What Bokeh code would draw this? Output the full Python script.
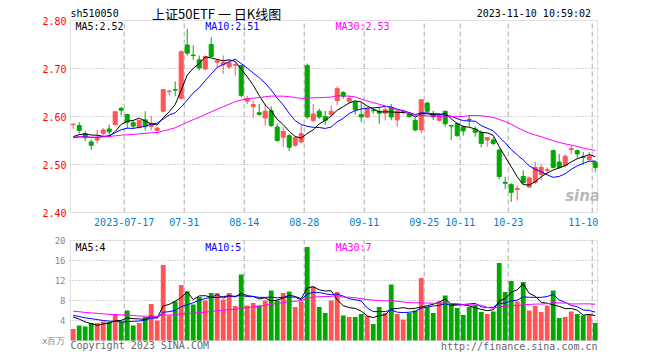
import numpy as np
from bokeh.plotting import figure
from bokeh.layouts import column
from bokeh.models import (ColumnDataSource, FixedTicker, Label, Range1d,
                          NumeralTickFormatter, BoxAnnotation)
from bokeh.embed import file_html
from bokeh.resources import INLINE

# ---------------- data ----------------
# trading-day index 0 = 2023-07-04 ... 87 = 2023-11-10
tick_days = [9, 19, 29, 39, 49, 59, 65, 73, 87]
tick_labels = ["2023-07-17", "07-31", "08-14", "08-28", "09-11",
               "09-25", "10-11", "10-23", "11-10"]

opens = [2.583, 2.581, 2.564, 2.547, 2.551, 2.565, 2.574, 2.583, 2.617, 2.604,
         2.587, 2.577, 2.593, 2.579, 2.571, 2.611, 2.652, 2.656, 2.638, 2.749,
         2.728, 2.718, 2.699, 2.750, 2.713, 2.708, 2.703, 2.707, 2.706, 2.632,
         2.621, 2.608, 2.597, 2.612, 2.578, 2.557, 2.560, 2.540, 2.547, 2.706,
         2.592, 2.611, 2.600, 2.604, 2.633, 2.650, 2.632, 2.630, 2.604, 2.599,
         2.613, 2.611, 2.607, 2.618, 2.593, 2.610, 2.605, 2.592, 2.572, 2.628,
         2.605, 2.592, 2.611, 2.581, 2.585, 2.578, 2.594, 2.574, 2.567, 2.551,
         2.551, 2.530, 2.463, 2.458, 2.448, 2.475, 2.453, 2.463, 2.479, 2.488,
         2.529, 2.505, 2.498, 2.531, 2.529, 2.516, 2.510, 2.505]
highs = [2.585, 2.588, 2.569, 2.552, 2.572, 2.576, 2.583, 2.611, 2.620, 2.606,
         2.592, 2.593, 2.611, 2.601, 2.579, 2.656, 2.656, 2.673, 2.738, 2.783,
         2.748, 2.727, 2.727, 2.765, 2.720, 2.727, 2.718, 2.713, 2.708, 2.643,
         2.633, 2.626, 2.626, 2.621, 2.585, 2.578, 2.564, 2.560, 2.581, 2.710,
         2.626, 2.616, 2.612, 2.623, 2.663, 2.653, 2.644, 2.633, 2.630, 2.619,
         2.618, 2.619, 2.622, 2.626, 2.614, 2.614, 2.609, 2.597, 2.636, 2.630,
         2.612, 2.607, 2.612, 2.582, 2.588, 2.581, 2.603, 2.579, 2.571, 2.557,
         2.557, 2.533, 2.474, 2.461, 2.456, 2.488, 2.475, 2.505, 2.500, 2.494,
         2.531, 2.522, 2.521, 2.540, 2.531, 2.526, 2.526, 2.508]
lows = [2.574, 2.564, 2.549, 2.531, 2.544, 2.560, 2.560, 2.581, 2.602, 2.576,
        2.574, 2.575, 2.571, 2.571, 2.563, 2.608, 2.644, 2.642, 2.635, 2.727,
        2.718, 2.696, 2.696, 2.724, 2.703, 2.689, 2.699, 2.685, 2.640, 2.626,
        2.597, 2.602, 2.581, 2.578, 2.547, 2.536, 2.528, 2.537, 2.544, 2.595,
        2.588, 2.595, 2.583, 2.599, 2.623, 2.637, 2.628, 2.604, 2.588, 2.597,
        2.606, 2.585, 2.592, 2.592, 2.579, 2.604, 2.597, 2.569, 2.565, 2.606,
        2.593, 2.590, 2.579, 2.551, 2.558, 2.560, 2.579, 2.558, 2.536, 2.537,
        2.540, 2.470, 2.449, 2.422, 2.425, 2.458, 2.451, 2.460, 2.467, 2.481,
        2.492, 2.491, 2.494, 2.522, 2.512, 2.500, 2.508, 2.484]
closes = [2.584, 2.571, 2.556, 2.540, 2.554, 2.572, 2.568, 2.610, 2.613, 2.588,
          2.580, 2.592, 2.579, 2.585, 2.576, 2.656, 2.653, 2.655, 2.735, 2.732,
          2.727, 2.701, 2.725, 2.725, 2.716, 2.713, 2.712, 2.708, 2.644, 2.637,
          2.625, 2.604, 2.611, 2.581, 2.550, 2.569, 2.536, 2.556, 2.564, 2.599,
          2.605, 2.599, 2.592, 2.611, 2.658, 2.642, 2.638, 2.614, 2.599, 2.616,
          2.612, 2.607, 2.614, 2.599, 2.611, 2.611, 2.600, 2.572, 2.635, 2.611,
          2.599, 2.602, 2.585, 2.580, 2.560, 2.570, 2.593, 2.567, 2.544, 2.556,
          2.544, 2.475, 2.461, 2.442, 2.450, 2.462, 2.472, 2.494, 2.494, 2.489,
          2.494, 2.494, 2.517, 2.533, 2.522, 2.515, 2.517, 2.494]
# volume, 百万 (millions)
volumes = [2.3, 3.0, 2.8, 3.5, 3.5, 3.8, 3.7, 5.3, 3.8, 6.0,
           3.0, 3.5, 4.7, 7.3, 4.0, 15.1, 5.0, 7.8, 11.1, 9.8,
           7.2, 8.7, 8.0, 9.5, 9.5, 8.2, 9.5, 6.9, 13.2, 7.0,
           7.5, 7.0, 8.0, 10.0, 8.0, 9.5, 9.8, 6.7, 7.8, 18.7,
           10.8, 6.7, 5.5, 8.0, 9.7, 5.0, 4.7, 4.7, 5.3, 4.9,
           3.3, 6.7, 5.5, 11.2, 5.3, 4.2, 5.5, 6.0, 12.5, 6.7,
           5.5, 7.8, 9.0, 7.3, 6.5, 5.1, 6.7, 7.1, 5.7, 5.3,
           5.8, 15.5, 9.7, 11.9, 7.8, 11.7, 6.0, 6.9, 5.7, 7.0,
           10.0, 4.5, 4.7, 5.8, 5.3, 5.0, 5.3, 3.5]
# closes / volumes of the 29 sessions before the window (estimated from the MA lines)
pre_close = [2.560, 2.565, 2.558, 2.552, 2.548, 2.555, 2.562, 2.570, 2.566, 2.560,
             2.555, 2.550, 2.548, 2.556, 2.562, 2.558, 2.552, 2.560, 2.565, 2.560,
             2.555, 2.552, 2.556, 2.554, 2.553, 2.550, 2.548, 2.552, 2.556]
pre_vol = [6.5, 7.0, 6.4, 6.0, 6.6, 7.2, 6.2, 5.8, 6.5, 6.1,
           6.8, 5.9, 6.3, 5.8, 6.2, 6.0, 6.5, 5.9, 6.2, 6.0,
           5.2, 5.6, 5.0, 5.4, 5.5, 5.1, 5.6, 5.2, 5.3]

price_ticks = [2.4, 2.5, 2.6, 2.7, 2.8]
vol_ticks = [4, 8, 12, 16, 20]
legend_price = ["MA5:2.52", "MA10:2.51", "MA30:2.53"]
legend_vol = ["MA5:4", "MA10:5", "MA30:7"]

# ---------------- styling ----------------
RED = "#ff5555"
GREEN = "#00a800"
MA_COLORS = ["#000000", "#0000ff", "#ff00ff"]
GRID = "#aaaaaa"
BORDER = "#999999"
MONO = "DejaVu Sans Mono"

n = len(closes)
idx = np.arange(n)
o = np.array(opens); h = np.array(highs); l = np.array(lows); c = np.array(closes)
v = np.array(volumes)
up = c >= o
colors = [RED if u else GREEN for u in up]


def moving_avg(pre, vals, w):
    arr = np.concatenate([np.array(pre), np.array(vals)])
    k = len(pre)
    return np.array([arr[k + j - w + 1:k + j + 1].mean() for j in range(len(vals))])


ma_price = [moving_avg(pre_close, closes, w) for w in (5, 10, 30)]
ma_vol = [moving_avg(pre_vol, volumes, w) for w in (5, 10, 30)]

src = ColumnDataSource(dict(x=idx, o=o, h=h, l=l, c=c, v=v,
                            top=np.maximum(o, c), bot=np.minimum(o, c),
                            color=colors))

# panel box in x (index units); frame is 1px wider on each side
BOX_L, BOX_R = -0.45, 87.38
PX = 1.0 / 6.0                      # one pixel in index units
xr = Range1d(BOX_L - PX, BOX_R + PX)
grid_x = [d - 0.5 for d in tick_days]
label_x = grid_x[:-1] + [tick_days[-1] - 2]

P_LO, P_HI = price_ticks[0], price_ticks[-1]
V_HI = vol_ticks[-1]


def style_yaxis(ax, color, size, standoff):
    ax.major_label_text_color = color
    ax.major_label_text_font = MONO
    ax.major_label_text_font_size = size
    ax.major_tick_out = 0
    ax.major_tick_in = 0
    ax.minor_tick_out = 0
    ax.minor_tick_in = 0
    ax.axis_line_color = None
    ax.major_label_standoff = standoff


# ---------------- price panel (frame also holds the header line) ----------------
p1 = figure(width=660, height=232, x_range=xr,
            y_range=Range1d(P_LO - 1 / 480, P_HI + 20 / 480),
            output_backend="svg", toolbar_location=None,
            min_border_left=69, min_border_right=62, min_border_top=0, min_border_bottom=19)
p1.outline_line_color = None
p1.background_fill_color = "white"
p1.border_fill_color = "white"

p1.yaxis.ticker = FixedTicker(ticks=price_ticks)
p1.yaxis.formatter = NumeralTickFormatter(format="0.00")
style_yaxis(p1.yaxis[0], "#ff0000", "10px", 3)

p1.xaxis.ticker = FixedTicker(ticks=label_x)
p1.xaxis.major_label_overrides = {float(x): t for x, t in zip(label_x, tick_labels)}
p1.xaxis.major_label_text_color = "#0080cc"
p1.xaxis.major_label_text_font = MONO
p1.xaxis.major_label_text_font_size = "10px"
p1.xaxis.major_tick_out = 0
p1.xaxis.major_tick_in = 0
p1.xaxis.minor_tick_out = 0
p1.xaxis.minor_tick_in = 0
p1.xaxis.axis_line_color = None
p1.xaxis.major_label_standoff = 4

p1.xgrid.visible = False
p1.ygrid.ticker = FixedTicker(ticks=price_ticks[1:-1])
p1.ygrid.grid_line_color = GRID
p1.ygrid.grid_line_dash = "1 2"
p1.segment(x0=grid_x, y0=P_LO, x1=grid_x, y1=P_HI, line_color=GRID, line_dash="5 3")

p1.segment(x0="x", y0="l", x1="x", y1="h", color="color", line_width=1, source=src)
p1.vbar(x="x", top="top", bottom="bot", width=0.67, fill_color="color",
        line_color="color", line_width=1, source=src)
for ma, col in zip(ma_price, MA_COLORS):
    p1.line(idx, ma, line_color=col, line_width=1)

p1.add_layout(BoxAnnotation(left=BOX_L, right=BOX_R, bottom=P_LO, top=P_HI,
                            fill_alpha=0, line_color=BORDER, line_width=1))

for txt, col, xp in zip(legend_price, MA_COLORS, [0.38, 22.0, 43.7]):
    p1.add_layout(Label(x=xp, y=2.7875, text=txt, text_color=col, text_font=MONO,
                        text_font_size="10px", text_baseline="middle", text_align="left"))

p1.add_layout(Label(x=BOX_L, y=2.8146, text="sh510050", text_color="#000000",
                    text_font=MONO, text_font_size="10px", text_baseline="middle"))
p1.add_layout(Label(x=23.9, y=2.8155, text="上证50ETF 一 日K线图", text_color="#000000",
                    text_font="Noto Sans CJK SC", text_font_size="13px",
                    text_baseline="middle", text_align="center"))
p1.add_layout(Label(x=86.3, y=2.8146, text="2023-11-10 10:59:02", text_color="#000000",
                    text_font=MONO, text_font_size="10px", text_baseline="middle",
                    text_align="right"))
p1.add_layout(Label(x=84.9, y=2.4354, text="sina", text_color="#b8b8b8",
                    text_font="DejaVu Sans", text_font_style="bold italic",
                    text_font_size="15px", text_baseline="middle", text_align="center"))

# ---------------- volume panel (frame also holds the footer line) ----------------
p2 = figure(width=660, height=128, x_range=xr, y_range=Range1d(-4, V_HI + 0.2),
            output_backend="svg", toolbar_location=None,
            min_border_left=69, min_border_right=62, min_border_top=7, min_border_bottom=0)
p2.outline_line_color = None
p2.background_fill_color = "white"
p2.border_fill_color = "white"
p2.xaxis.visible = False

p2.yaxis.ticker = FixedTicker(ticks=[0] + vol_ticks)
p2.yaxis.major_label_overrides = {0: "x百万"}
style_yaxis(p2.yaxis[0], "#888888", "9px", 4)

p2.xgrid.visible = False
p2.ygrid.ticker = FixedTicker(ticks=vol_ticks[:-1])
p2.ygrid.grid_line_color = GRID
p2.ygrid.grid_line_dash = "1 2"
p2.segment(x0=grid_x, y0=0, x1=grid_x, y1=V_HI, line_color=GRID, line_dash="5 3")

p2.vbar(x="x", top="v", bottom=0, width=0.8, fill_color="color", line_color=None, source=src)
for ma, col in zip(ma_vol, MA_COLORS):
    p2.line(idx, ma, line_color=col, line_width=1)

p2.add_layout(BoxAnnotation(left=BOX_L, right=BOX_R, bottom=0, top=V_HI,
                            fill_alpha=0, line_color=BORDER, line_width=1))

for txt, col, xp in zip(legend_vol, MA_COLORS, [0.38, 22.0, 43.7]):
    p2.add_layout(Label(x=xp, y=18.6, text=txt, text_color=col, text_font=MONO,
                        text_font_size="10px", text_baseline="middle", text_align="left"))

p2.add_layout(Label(x=BOX_L, y=-1.0, text="Copyright 2023 SINA.COM", text_color="#666666",
                    text_font=MONO, text_font_size="10px", text_baseline="middle"))
p2.add_layout(Label(x=BOX_R, y=-1.2, text="http://finance.sina.com.cn", text_color="#666666",
                    text_font=MONO, text_font_size="10px", text_baseline="middle",
                    text_align="right"))

layout = column(p1, p2)
open("out.html", "w").write(file_html(layout, INLINE))
